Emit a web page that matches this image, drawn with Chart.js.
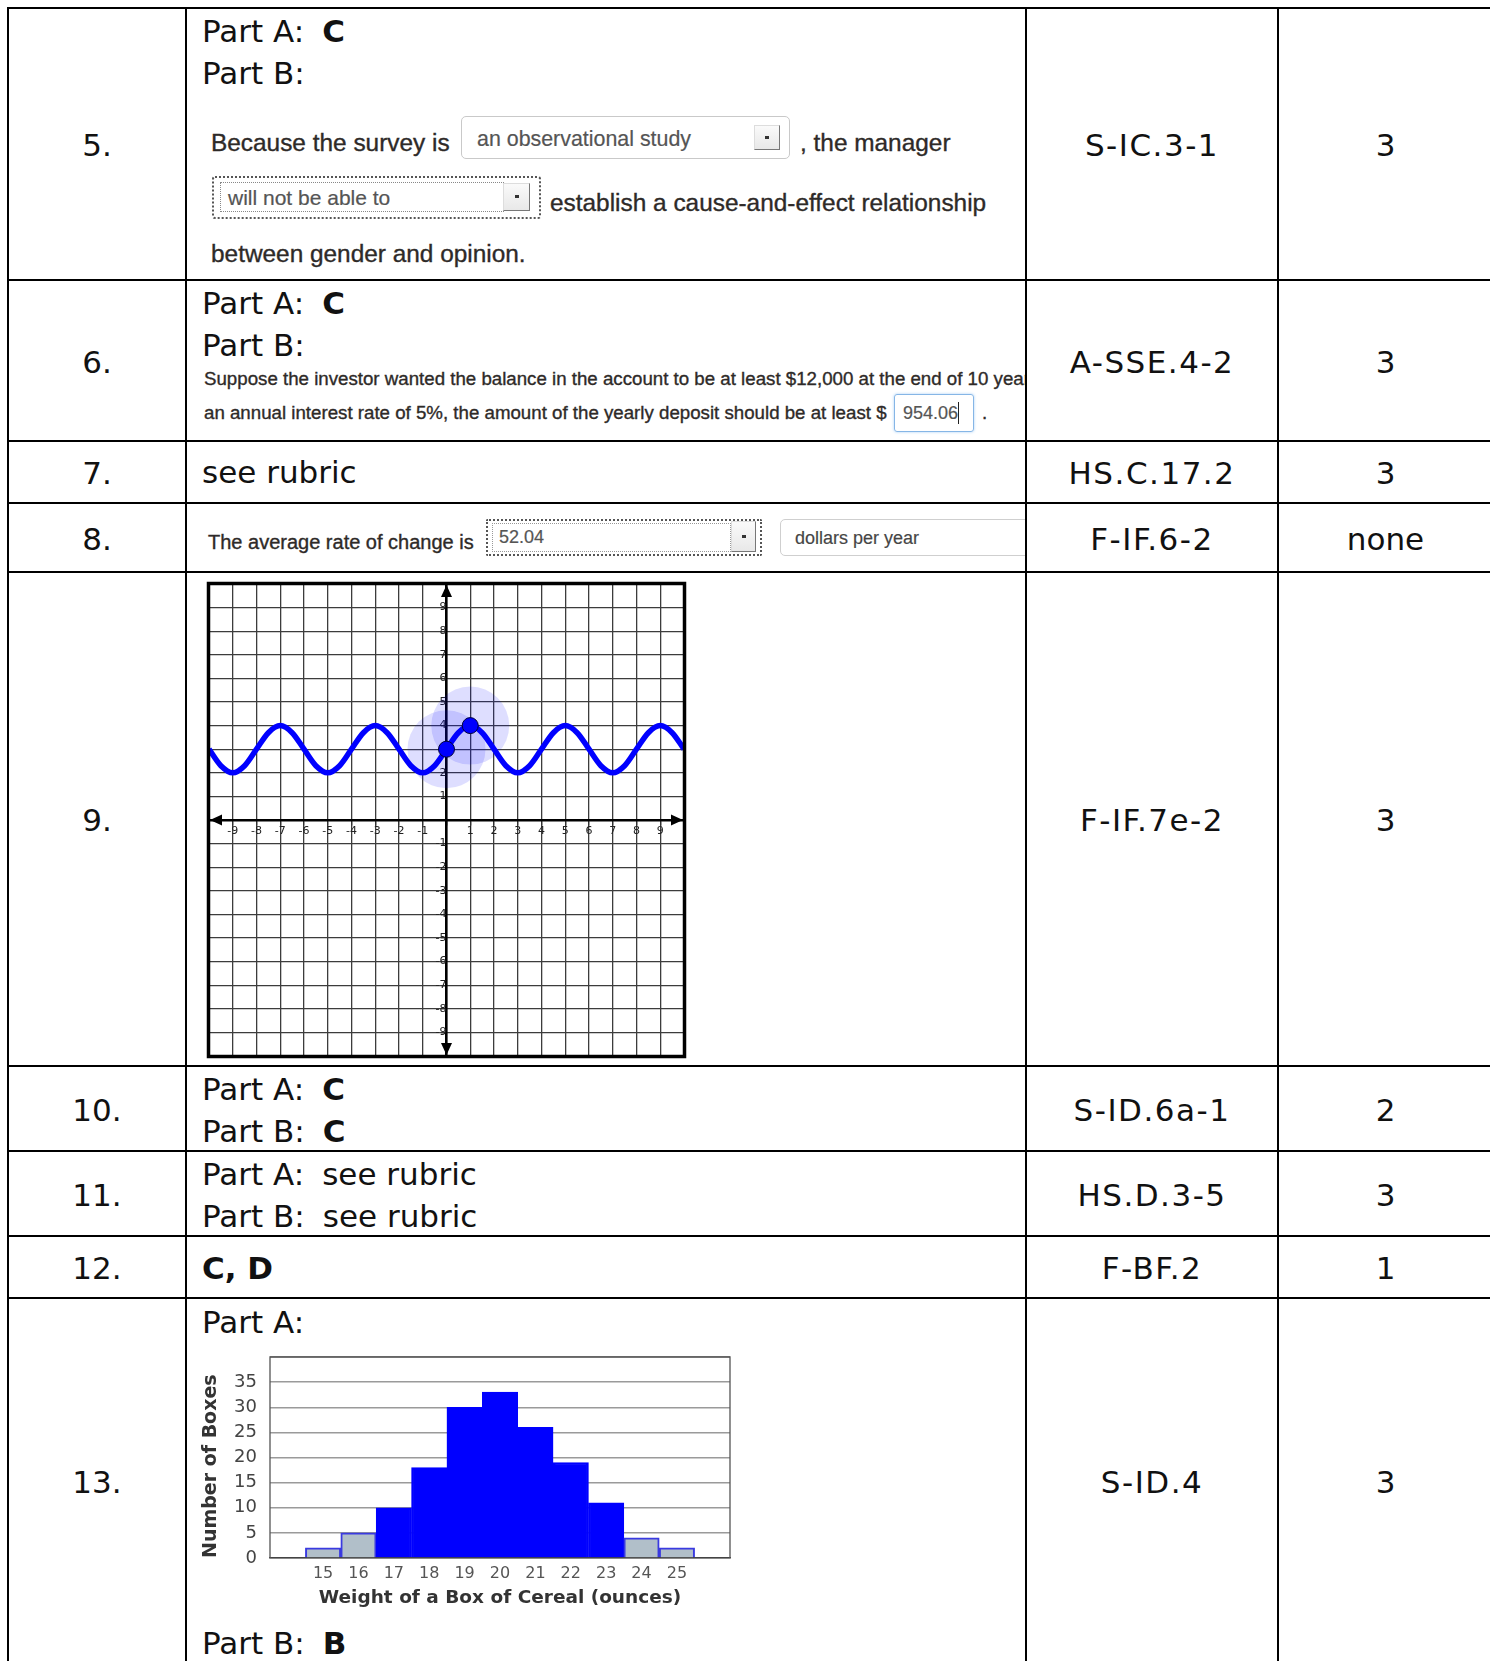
<!DOCTYPE html>
<html><head><meta charset="utf-8">
<script src="https://cdn.jsdelivr.net/npm/chart.js@4.4.1/dist/chart.umd.min.js"></script>
<style>
html,body{margin:0;padding:0;background:#fff;}
body{width:1490px;height:1661px;overflow:hidden;position:relative;}
.ln{position:absolute;background:#000;}
.t{position:absolute;white-space:nowrap;font-family:"DejaVu Sans",sans-serif;font-size:31px;color:#111;height:40px;line-height:40px;}
.t b{font-weight:bold;}
.cc{text-align:center;}
.kk{letter-spacing:1.5px;}
.s{position:absolute;white-space:nowrap;font-family:"Liberation Sans",Arial,sans-serif;color:#2e2a28;height:30px;line-height:30px;-webkit-text-stroke:0.35px #2e2a28;}
.g{color:#555;-webkit-text-stroke:0.2px #555;}
.box{position:absolute;box-sizing:border-box;}
.btn{position:absolute;box-sizing:border-box;background:linear-gradient(#fafafa,#e8e8e8);border-top:1px solid #ddd;border-left:1px solid #ddd;border-right:1.5px solid #777;border-bottom:1.5px solid #777;}
.btn i{position:absolute;left:50%;top:50%;width:4px;height:3px;margin-left:-2px;margin-top:-2px;background:#333;}
#clip{position:absolute;left:0;top:0;width:1490px;height:1661px;clip-path:inset(0 464px 0 187px);}
</style>
</head><body>
<div id="clip">
  <!-- row 5 screenshot -->
  <div class="s" style="left:211px;top:128px;font-size:24.4px;">Because the survey is</div>
  <div class="box" style="left:461px;top:116px;width:329px;height:43px;border:1px solid #c9c9c9;border-radius:5px;"></div>
  <div class="s g" style="left:477px;top:124px;font-size:21.4px;">an observational study</div>
  <div class="btn" style="left:754px;top:125px;width:26px;height:25px;"><i></i></div>
  <div class="s" style="left:800px;top:128px;font-size:24.4px;">, the manager</div>
  <div class="box" style="left:212px;top:176px;width:329px;height:43px;border:2px dotted #555;border-radius:3px;"></div>
  <div class="box" style="left:220px;top:182px;width:284px;height:30px;border:1px dotted #888;"></div>
  <div class="s g" style="left:228px;top:183px;font-size:21px;">will not be able to</div>
  <div class="btn" style="left:503px;top:183px;width:27px;height:28px;"><i></i></div>
  <div class="s" style="left:550px;top:188px;font-size:24.4px;">establish a cause-and-effect relationship</div>
  <div class="s" style="left:211px;top:239px;font-size:24.4px;">between gender and opinion.</div>
  <!-- row 6 screenshot -->
  <div class="s" style="left:204px;top:364px;font-size:18.7px;">Suppose the investor wanted the balance in the account to be at least $12,000 at the end of 10 years at</div>
  <div class="s" style="left:204px;top:398px;font-size:18.7px;">an annual interest rate of 5%, the amount of the yearly deposit should be at least $</div>
  <div class="box" style="left:894px;top:394px;width:80px;height:38px;border:1.5px solid #86b6e6;border-radius:3px;box-shadow:0 0 3px #a9d0f5;"></div>
  <div class="s g" style="left:903px;top:398px;font-size:18px;">954.06</div>
  <div class="ln" style="left:958px;top:402px;width:1px;height:22px;background:#222;"></div>
  <div class="s" style="left:982px;top:398px;font-size:18.7px;">.</div>
  <!-- row 8 screenshot -->
  <div class="s" style="left:208px;top:527px;font-size:20px;">The average rate of change is</div>
  <div class="box" style="left:486px;top:519px;width:276px;height:37px;border:2px dotted #555;border-radius:2px;"></div>
  <div class="box" style="left:492px;top:523px;width:239px;height:29px;border:1px dotted #999;"></div>
  <div class="s g" style="left:499px;top:522px;font-size:18px;">52.04</div>
  <div class="btn" style="left:731px;top:521px;width:25px;height:31px;"><i></i></div>
  <div class="box" style="left:780px;top:519px;width:300px;height:37px;border:1px solid #cfcfcf;border-radius:5px;"></div>
  <div class="s g" style="left:795px;top:523px;font-size:18px;color:#444;">dollars per year</div>
</div>

<div id="cells"></div>

<div style="position:absolute;left:200px;top:575px;width:494px;height:490px;"><canvas id="graph" width="494" height="490"></canvas></div>
<div style="position:absolute;left:190px;top:1340px;width:550px;height:270px;"><canvas id="hist" width="550" height="270"></canvas></div>

<script>
// ---------- table content ----------
const rowNumbers = ['5.', '6.', '7.', '8.', '9.', '10.', '11.', '12.', '13.'];
const standards = ['S-IC.3-1', 'A-SSE.4-2', 'HS.C.17.2', 'F-IF.6-2', 'F-IF.7e-2', 'S-ID.6a-1', 'HS.D.3-5', 'F-BF.2', 'S-ID.4'];
const pointValues = ['3', '3', '3', 'none', '3', '2', '3', '1', '3'];
const answerLines = [
  ['Part A:|C', 'Part B:|'],
  ['Part A:|C', 'Part B:|'],
  ['see rubric'],
  [],
  [],
  ['Part A:|C', 'Part B:|C'],
  ['Part A:|see rubric', 'Part B:|see rubric'],
  ['|C, D'],
  ['Part A:|', 'Part B:|B']
];

// ---------- graph (row 9) ----------
const curveX = [-10,-9.5,-9,-8.5,-8,-7.5,-7,-6.5,-6,-5.5,-5,-4.5,-4,-3.5,-3,-2.5,-2,-1.5,-1,-0.5,0,0.5,1,1.5,2,2.5,3,3.5,4,4.5,5,5.5,6,6.5,7,7.5,8,8.5,9,9.5,10];
const curveY = [3,2.3,2,2.3,3,3.7,4,3.7,3,2.3,2,2.3,3,3.7,4,3.7,3,2.3,2,2.3,3,3.7,4,3.7,3,2.3,2,2.3,3,3.7,4,3.7,3,2.3,2,2.3,3,3.7,4,3.7,3];
const markX = [0, 1];
const markY = [3, 4];

// ---------- histogram (row 13) ----------
const weightBins = [15, 16, 17, 18, 19, 20, 21, 22, 23, 24, 25];
const boxCounts = [2, 5, 10, 18, 30, 33, 26, 19, 11, 4, 2];

// ---------- layout ----------
const colLines = [8, 186, 1026, 1278, 1493];
const rowLines = [8, 280, 441, 503, 572, 1066, 1151, 1236, 1298, 1664];
const lineCentersRow = [[31, 73], [303, 345], [472], [], [], [1089, 1131], [1174, 1216], [1268], [1322, 1643]];

const cells = document.getElementById('cells');
function addDiv(cls, style, html) {
  const d = document.createElement('div');
  d.className = cls; d.setAttribute('style', style); d.innerHTML = html;
  cells.appendChild(d);
}
colLines.forEach(x => addDiv('ln', `left:${x-1}px;top:7px;width:2px;height:1700px;`, ''));
rowLines.forEach(y => addDiv('ln', `left:7px;top:${y-1}px;width:1500px;height:2px;`, ''));
for (let r = 0; r < rowNumbers.length; r++) {
  const yc = (rowLines[r] + rowLines[r+1]) / 2 + 1;
  addDiv('t cc', `left:${colLines[0]}px;width:${colLines[1]-colLines[0]}px;top:${yc-20}px;`, rowNumbers[r]);
  addDiv('t cc kk', `left:${colLines[2]}px;width:${colLines[3]-colLines[2]}px;top:${yc-20}px;`, standards[r]);
  addDiv('t cc', `left:${colLines[3]}px;width:${colLines[4]-colLines[3]}px;top:${yc-20}px;`, pointValues[r]);
  answerLines[r].forEach((ln, i) => {
    const [lab, ans] = ln.split('|');
    const bold = /^[A-D](, [A-D])?$/.test(ans);
    const ansHtml = ans ? (bold ? `<b>${ans}</b>` : ans) : '';
    const html = lab ? `${lab}<span style="margin-left:18px">${ansHtml}</span>` : ansHtml;
    addDiv('t', `left:202px;top:${lineCentersRow[r][i]-20}px;`, html);
  });
}

// ---------- chart plugins ----------
const graphDecor = {
  id: 'graphDecor',
  afterDraw(chart) {
    const {ctx, chartArea: a, scales: {x, y}} = chart;
    const x0 = x.getPixelForValue(0), y0 = y.getPixelForValue(0);
    ctx.save();
    ctx.fillStyle = '#000';
    const xl = x.getPixelForValue(-10), xr = x.getPixelForValue(10);
    const yt = y.getPixelForValue(10), yb = y.getPixelForValue(-10);
    const tri = (p1, p2, p3) => { ctx.beginPath(); ctx.moveTo(...p1); ctx.lineTo(...p2); ctx.lineTo(...p3); ctx.closePath(); ctx.fill(); };
    tri([xl + 1, y0], [xl + 13, y0 - 5.5], [xl + 13, y0 + 5.5]);
    tri([xr - 1, y0], [xr - 13, y0 - 5.5], [xr - 13, y0 + 5.5]);
    tri([x0, yt + 1], [x0 - 5.5, yt + 13], [x0 + 5.5, yt + 13]);
    tri([x0, yb - 1], [x0 - 5.5, yb - 13], [x0 + 5.5, yb - 13]);
    ctx.lineWidth = 3.5;
    ctx.strokeStyle = '#000';
    ctx.strokeRect(a.left - 0.5, a.top - 0.5, a.width + 1, a.height + 1);
    ctx.restore();
  }
};
const histFrame = {
  id: 'histFrame',
  afterDraw(chart) {
    const {ctx, chartArea: a} = chart;
    ctx.save();
    ctx.strokeStyle = '#555';
    ctx.lineWidth = 1.3;
    ctx.beginPath();
    ctx.moveTo(a.left, a.bottom); ctx.lineTo(a.left, a.top); ctx.lineTo(a.right, a.top); ctx.lineTo(a.right, a.bottom);
    ctx.stroke();
    ctx.restore();
  }
};
const zeroPad = s => { s.paddingLeft = 0; s.paddingRight = 0; s.paddingTop = 0; s.paddingBottom = 0; };
const isTail = w => (w < 17 || w > 23);

Chart.defaults.font.family = '"DejaVu Sans", sans-serif';

new Chart(document.getElementById('graph'), {
  type: 'scatter',
  data: {
    datasets: [
      { data: markX.map((v, i) => ({x: v, y: markY[i]})), pointRadius: 8, pointBackgroundColor: '#0000ff', pointBorderColor: '#00003a', pointBorderWidth: 1, order: 0 },
      { data: curveX.map((v, i) => ({x: v, y: curveY[i]})), showLine: true, borderColor: '#0000ff', borderWidth: 5.5, pointRadius: 0, cubicInterpolationMode: 'monotone', order: 1 },
      { data: markX.map((v, i) => ({x: v, y: markY[i]})), pointRadius: 39, pointBackgroundColor: 'rgba(0,0,255,0.13)', pointBorderWidth: 0, order: 2 }
    ]
  },
  options: {
    responsive: false, animation: false, events: [],
    layout: { autoPadding: false, padding: { left: 9, right: 10, top: 9, bottom: 9 } },
    plugins: { legend: { display: false }, tooltip: { enabled: false } },
    scales: {
      x: {
        type: 'linear', position: { y: 0 }, min: -10, max: 10,
        ticks: { stepSize: 1, autoSkip: false, maxRotation: 0, padding: 1, color: '#222', font: { size: 11 },
          callback: v => (v === 0 || Math.abs(v) === 10) ? '' : String(v) },
        grid: { color: '#3c3c3c', lineWidth: 1.3, tickLength: 4, tickColor: '#333' },
        border: { color: '#000', width: 2.5 },
        afterFit: zeroPad
      },
      y: {
        type: 'linear', position: { x: 0 }, min: -10, max: 10,
        ticks: { stepSize: 1, autoSkip: false, padding: 1, color: '#222', font: { size: 11 },
          callback: v => (v === 0 || Math.abs(v) === 10) ? '' : String(v) },
        grid: { color: '#3c3c3c', lineWidth: 1.3, tickLength: 4, tickColor: '#333' },
        border: { color: '#000', width: 2.5 },
        afterFit: zeroPad
      }
    }
  },
  plugins: [graphDecor]
});

new Chart(document.getElementById('hist'), {
  type: 'bar',
  data: {
    datasets: [{
      data: weightBins.map((v, i) => ({x: v, y: boxCounts[i]})),
      backgroundColor: c => isTail(weightBins[c.dataIndex]) ? '#b1bfc9' : '#0000ff',
      borderColor: c => isTail(weightBins[c.dataIndex]) ? '#3a3ae0' : '#0000ff',
      borderWidth: 2,
      barPercentage: 1, categoryPercentage: 1
    }]
  },
  options: {
    responsive: false, animation: false, events: [],
    layout: { autoPadding: false, padding: { left: 10, right: 10, top: 17, bottom: 1 } },
    plugins: { legend: { display: false }, tooltip: { enabled: false } },
    scales: {
      x: {
        type: 'linear', min: 13.5, max: 26.5, offset: false,
        afterBuildTicks: s => { s.ticks = weightBins.map(v => ({ value: v })); },
        ticks: { autoSkip: false, maxRotation: 0, padding: 6, color: '#555', font: { size: 16 },
          callback: v => String(v) },
        grid: { display: false, drawTicks: false, offset: false },
        border: { color: '#444', width: 1.5 },
        title: { display: true, text: 'Weight of a Box of Cereal (ounces)', color: '#333', padding: 0, font: { size: 18.5, weight: 'bold' } },
        afterFit: s => { s.height = 51; zeroPad(s); }
      },
      y: {
        min: 0, max: 40,
        ticks: { stepSize: 5, autoSkip: false, padding: 13, color: '#444', font: { size: 18 },
          callback: v => v === 40 ? '' : String(v) },
        grid: { color: '#9a9a9a', lineWidth: 1.5, drawTicks: false },
        border: { display: false },
        title: { display: true, text: 'Number of Boxes', align: 'start', color: '#333', padding: 0, font: { size: 19, weight: 'bold' } },
        afterFit: s => { s.width = 70; zeroPad(s); }
      }
    }
  },
  plugins: [histFrame]
});
</script>
</body></html>
